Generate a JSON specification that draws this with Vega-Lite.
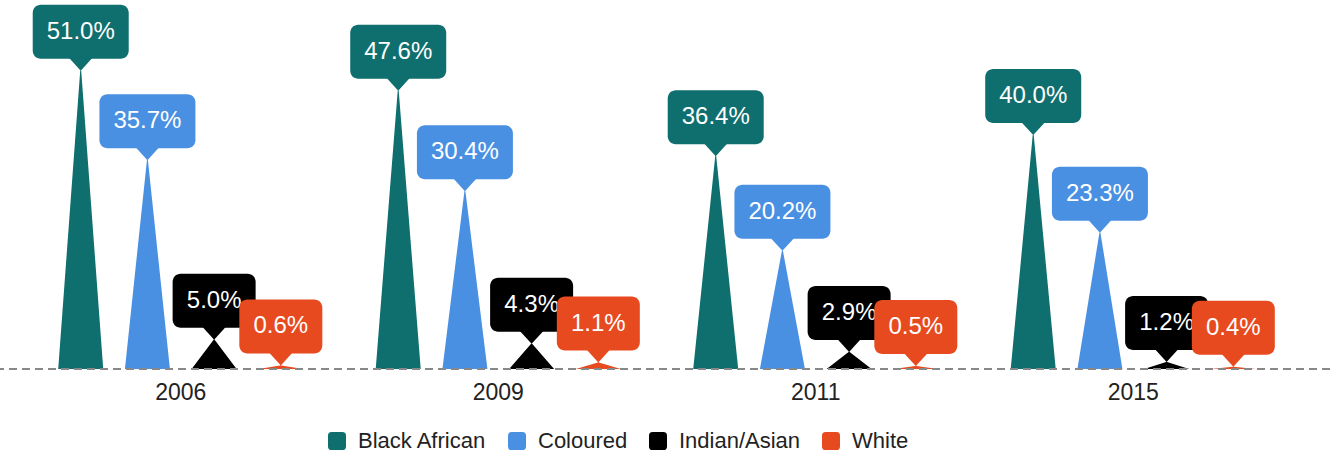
{
  "$schema": "https://vega.github.io/schema/vega-lite/v6.json",
  "width": 1330,
  "height": 369,
  "autosize": {"type": "none"},
  "padding": {"left": 0, "right": 0, "top": 0, "bottom": 86},
  "background": "white",
  "config": {
    "view": {"stroke": null},
    "font": "Liberation Sans",
    "legend": {
      "orient": "none", "legendX": 326, "legendY": 430, "direction": "horizontal", "title": null,
      "symbolType": "M-1,-0.6Q-1,-1,-0.6,-1L0.6,-1Q1,-1,1,-0.6L1,0.6Q1,1,0.6,1L-0.6,1Q-1,1,-1,0.6Z",
      "symbolSize": 324, "symbolStrokeWidth": 0, "symbolOpacity": 1, "labelFontSize": 22, "labelFont": "Liberation Sans", "labelColor": "#222",
      "labelOffset": 10, "columnPadding": 19, "padding": 0
    }
  },
  "data": {
    "values": [
      {"year": "2006", "group": "Black African", "share": 0.510, "base": 0},
      {"year": "2006", "group": "Coloured", "share": 0.357, "base": 0},
      {"year": "2006", "group": "Indian/Asian", "share": 0.050, "base": 0},
      {"year": "2006", "group": "White", "share": 0.006, "base": 0},
      {"year": "2009", "group": "Black African", "share": 0.476, "base": 0},
      {"year": "2009", "group": "Coloured", "share": 0.304, "base": 0},
      {"year": "2009", "group": "Indian/Asian", "share": 0.043, "base": 0},
      {"year": "2009", "group": "White", "share": 0.011, "base": 0},
      {"year": "2011", "group": "Black African", "share": 0.364, "base": 0},
      {"year": "2011", "group": "Coloured", "share": 0.202, "base": 0},
      {"year": "2011", "group": "Indian/Asian", "share": 0.029, "base": 0},
      {"year": "2011", "group": "White", "share": 0.005, "base": 0},
      {"year": "2015", "group": "Black African", "share": 0.400, "base": 0},
      {"year": "2015", "group": "Coloured", "share": 0.233, "base": 0},
      {"year": "2015", "group": "Indian/Asian", "share": 0.012, "base": 0},
      {"year": "2015", "group": "White", "share": 0.004, "base": 0}
    ]
  },
  "layer": [
    {
      "transform": [{"fold": ["share", "base"], "as": ["end", "v"]}],
      "mark": {"type": "trail", "clip": true},
      "encoding": {
        "x": {"field": "year", "type": "nominal", "scale": {"paddingInner": 0, "paddingOuter": 0.0945, "align": 0.367},
              "axis": {"title": null, "domain": false, "ticks": false, "labelFontSize": 23, "labelFont": "Liberation Sans", "labelColor": "#222", "labelPadding": 12, "labelAngle": 0}},
        "xOffset": {"field": "group", "type": "nominal", "scale": {"domain": ["Black African", "Coloured", "Indian/Asian", "White"], "paddingInner": 0, "paddingOuter": 0.38}},
        "y": {"field": "v", "type": "quantitative", "scale": {"domain": [0, 0.631], "nice": false}, "axis": null},
        "size": {"field": "end", "type": "ordinal", "scale": {"type": "ordinal", "domain": ["share", "base"], "range": [0, 45]}, "legend": null},
        "color": {"field": "group", "type": "nominal", "scale": {"domain": ["Black African", "Coloured", "Indian/Asian", "White"], "range": ["#0f6e6e", "#4a90e2", "#000000", "#e84a1f"]}},
        "detail": {"field": "year"}
      }
    },
    {
      "mark": {"type": "rule", "color": "#888888", "strokeDash": [8, 5], "strokeWidth": 2},
      "encoding": {"y": {"datum": 0}}
    },
    {
      "transform": [{"filter": {"field": "group", "oneOf": ["Black African", "Coloured"]}}],
      "encoding": {
        "x": {"field": "year", "type": "nominal"},
        "xOffset": {"field": "group", "type": "nominal"},
        "y": {"field": "share", "type": "quantitative"},
        "color": {"field": "group", "type": "nominal"}
      },
      "layer": [
        {"mark": {"type": "bar", "width": 96, "cornerRadius": 8, "yOffset": -66, "y2Offset": -12}, "encoding": {"y2": {"field": "share"}}},
        {"mark": {"type": "point", "shape": "M-1,-0.6L1,-0.6L0,0.5Z", "size": 576, "filled": true, "opacity": 1, "strokeWidth": 0, "yOffset": -6}},
        {"mark": {"type": "text", "fontSize": 24, "font": "Liberation Sans", "color": "white", "yOffset": -39, "baseline": "middle", "align": "center"},
         "encoding": {"text": {"field": "share", "type": "quantitative", "format": ".1%"}, "color": {"value": "white"}}}
      ]
    },
    {
      "transform": [{"filter": {"field": "group", "equal": "Indian/Asian"}}],
      "encoding": {
        "x": {"field": "year", "type": "nominal"},
        "xOffset": {"field": "group", "type": "nominal"},
        "y": {"field": "share", "type": "quantitative"},
        "color": {"field": "group", "type": "nominal"}
      },
      "layer": [
        {"mark": {"type": "bar", "width": 83, "cornerRadius": 8, "yOffset": -66, "y2Offset": -12}, "encoding": {"y2": {"field": "share"}}},
        {"mark": {"type": "point", "shape": "M-1,-0.6L1,-0.6L0,0.5Z", "size": 576, "filled": true, "opacity": 1, "strokeWidth": 0, "yOffset": -6}},
        {"mark": {"type": "text", "fontSize": 24, "font": "Liberation Sans", "color": "white", "yOffset": -39, "baseline": "middle", "align": "center"},
         "encoding": {"text": {"field": "share", "type": "quantitative", "format": ".1%"}, "color": {"value": "white"}}}
      ]
    },
    {
      "transform": [{"filter": {"field": "group", "equal": "White"}}],
      "encoding": {
        "x": {"field": "year", "type": "nominal"},
        "xOffset": {"field": "group", "type": "nominal"},
        "y": {"field": "share", "type": "quantitative"},
        "color": {"field": "group", "type": "nominal"}
      },
      "layer": [
        {"mark": {"type": "bar", "width": 83, "cornerRadius": 8, "yOffset": -66, "y2Offset": -12}, "encoding": {"y2": {"field": "share"}}},
        {"mark": {"type": "point", "shape": "M-1,-0.6L1,-0.6L0,0.5Z", "size": 576, "filled": true, "opacity": 1, "strokeWidth": 0, "yOffset": -6}},
        {"mark": {"type": "text", "fontSize": 24, "font": "Liberation Sans", "color": "white", "yOffset": -39, "baseline": "middle", "align": "center"},
         "encoding": {"text": {"field": "share", "type": "quantitative", "format": ".1%"}, "color": {"value": "white"}}}
      ]
    }
  ]
}
